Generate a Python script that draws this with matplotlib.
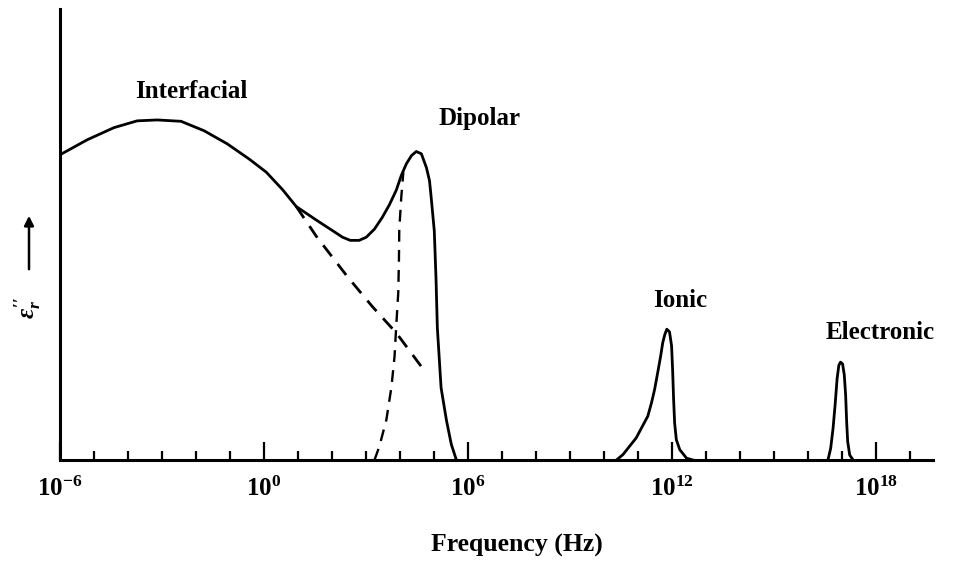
import matplotlib
matplotlib.use("Agg")
import matplotlib.pyplot as plt
import numpy as np
from matplotlib.ticker import FixedLocator, FuncFormatter, NullFormatter

# log10(frequency / Hz) and relative loss (0 = axis, 100 = top)
total_logf = [-5.97, -5.20, -4.41, -3.73, -3.14, -2.44, -1.76, -1.08, -0.43, 0.07,
              0.54, 0.95, 1.54, 2.13, 2.31, 2.54, 2.80, 3.01, 3.25, 3.48, 3.69,
              3.89, 4.04, 4.19, 4.34, 4.48, 4.63, 4.78, 4.87, 4.92, 5.01, 5.06,
              5.10, 5.21, 5.37, 5.51, 5.66]
total_loss = [67.8, 71.0, 73.7, 75.2, 75.4, 75.1, 73.0, 70.1, 66.7, 63.8,
              60.0, 56.2, 53.2, 50.3, 49.4, 48.7, 48.7, 49.4, 51.2, 53.8, 56.6,
              59.8, 63.1, 65.7, 67.5, 68.4, 67.9, 64.8, 61.9, 58.1, 50.8, 40.4,
              29.3, 16.0, 8.7, 3.5, 0.0]

interfacial_logf = [0.95, 1.54, 2.45, 3.19, 3.89, 4.66]
interfacial_loss = [56.2, 49.6, 40.7, 34.0, 28.2, 20.4]

dipolar_logf = [3.25, 3.39, 3.60, 3.75, 3.84, 3.89, 3.95, 3.97, 3.98, 4.04, 4.10]
dipolar_loss = [0.0, 2.9, 8.9, 16.2, 22.9, 29.6, 37.1, 44.4, 51.1, 58.4, 63.8]

ionic_logf = [10.37, 10.56, 10.76, 10.95, 11.14, 11.29, 11.40, 11.49, 11.58,
              11.67, 11.73, 11.79, 11.85, 11.93, 11.99, 12.02, 12.05, 12.08,
              12.13, 12.23, 12.43, 12.62]
ionic_loss = [0.0, 1.2, 3.1, 4.9, 7.6, 9.7, 12.7, 15.6, 19.3,
              23.1, 26.0, 27.8, 29.0, 28.4, 25.3, 20.1, 13.4, 8.2,
              4.5, 2.3, 0.4, 0.0]

electronic_logf = [16.59, 16.67, 16.74, 16.80, 16.86, 16.91, 16.96, 17.02, 17.07,
                   17.11, 17.14, 17.17, 17.23, 17.33]
electronic_loss = [0.0, 2.6, 7.0, 12.2, 18.1, 21.0, 21.7, 21.3, 18.9,
                   14.4, 8.5, 4.1, 1.1, 0.0]

label_decades = [-6, 0, 6, 12, 18]
minor_decades = [d for d in range(-5, 20) if d not in label_decades]

plt.rcParams["font.family"] = ["Liberation Serif", "DejaVu Serif"]
plt.rcParams["font.weight"] = "bold"
plt.rcParams["mathtext.fontset"] = "custom"
plt.rcParams["mathtext.rm"] = "Liberation Serif:bold"
plt.rcParams["mathtext.it"] = "Liberation Serif:italic:bold"
plt.rcParams["mathtext.bf"] = "Liberation Serif:bold"

fig = plt.figure(figsize=(9.57, 5.63), dpi=100)
ax = fig.add_axes([60 / 957, 1 - 460 / 563, 873 / 957, 451 / 563])

lw = 2.0
ax.plot(10.0 ** np.array(total_logf), total_loss, color="black", lw=lw)
ax.plot(10.0 ** np.array(interfacial_logf), interfacial_loss, color="black",
        lw=lw, dashes=(5, 3.5))
ax.plot(10.0 ** np.array(dipolar_logf), dipolar_loss, color="black",
        lw=1.7, dashes=(5, 3.5))
ax.plot(10.0 ** np.array(ionic_logf), ionic_loss, color="black", lw=lw)
ax.plot(10.0 ** np.array(electronic_logf), electronic_loss, color="black", lw=lw)

ax.set_xscale("log")
ax.set_xlim(1e-6, 10 ** 19.68)
ax.set_ylim(0, 100)

ax.xaxis.set_major_locator(FixedLocator([10.0 ** d for d in label_decades]))
ax.xaxis.set_minor_locator(FixedLocator([10.0 ** d for d in minor_decades]))
ax.xaxis.set_major_formatter(
    FuncFormatter(lambda v, pos: r"$10^{%d}$" % round(np.log10(v))))
ax.xaxis.set_minor_formatter(NullFormatter())
ax.tick_params(axis="x", which="major", direction="in", length=13, width=1.6,
               labelsize=18, pad=12)
ax.tick_params(axis="x", which="minor", direction="in", length=6.5, width=1.6)
ax.set_yticks([])

for side in ["top", "right"]:
    ax.spines[side].set_visible(False)
ax.spines["left"].set_linewidth(2.2)
ax.spines["bottom"].set_linewidth(2.2)

text_kw = dict(ha="center", va="center", fontsize=18, fontweight="bold")
ax.text(10 ** -2.14, 81.8, "Interfacial", **text_kw)
ax.text(10 ** 6.34, 75.8, "Dipolar", **text_kw)
ax.text(10 ** 12.23, 35.3, "Ionic", **text_kw)
ax.text(10 ** 18.12, 28.2, "Electronic", **text_kw)

fig.text(517 / 957, 1 - 545 / 563, "Frequency (Hz)", ha="center", va="center",
         fontsize=18.5, fontweight="bold")

# y label: epsilon'' with an upward arrow
fig.text(28 / 957, 1 - 308 / 563, r"$\epsilon_r''$", rotation=90,
         ha="center", va="center", fontsize=18)
ax.annotate("", xy=(29 / 957, 1 - 213 / 563), xytext=(29 / 957, 1 - 272 / 563),
            xycoords="figure fraction", textcoords="figure fraction",
            arrowprops=dict(arrowstyle="-|>", lw=1.8, color="black",
                            mutation_scale=14))

fig.savefig("out.png", dpi=100)
